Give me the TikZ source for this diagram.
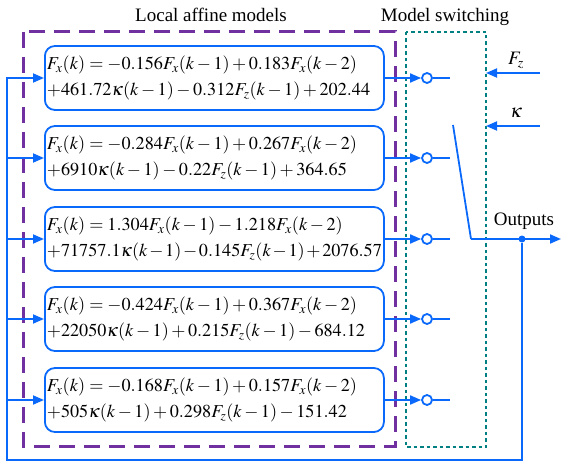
\documentclass[tikz,border=0pt]{standalone}
\usepackage{mathptmx}
\usepackage{fontspec}
\setmainfont{Liberation Serif}
\newfontfamily\titlefont{Liberation Serif}
\usetikzlibrary{arrows.meta}
\definecolor{wireblue}{RGB}{10,105,250}
\definecolor{grpurple}{RGB}{112,48,160}
\definecolor{grteal}{RGB}{0,128,128}
\tikzset{
  wire/.style={draw=wireblue, line width=1.8pt},
  arr/.style={wire, -{Triangle[length=11pt,width=9pt]}},
  eqbox/.style={draw=wireblue, line width=1.8pt, rounded corners=10pt,
    text width=335pt, inner xsep=2pt, minimum height=64pt, anchor=west,
    align=left, font=\fontsize{18.2}{26}\selectfont},
  swnode/.style={circle, draw=wireblue, line width=1.8pt, fill=white,
    minimum size=10pt, inner sep=0pt},
  title/.style={font=\titlefont\fontsize{19}{21}\selectfont},
}
\begin{document}
\begin{tikzpicture}[x=1pt,y=-1pt]
\useasboundingbox (0,0) rectangle (561,462);

% group frames
\draw[grpurple, line width=3pt, dash pattern=on 16pt off 9pt] (23,32) rectangle (395,446);
\draw[grteal, line width=2.8pt, dash pattern=on 3.5pt off 3pt] (406,32) rectangle (486,447);
\node[title] (tloc) at (211,15) {Local affine models};
\node[title] (tsw) at (445,17) {Model switching};

% local models
\node[eqbox] (m1) at (44,78) {$F_x(k)=-0.156F_x(k-1)+0.183F_x(k-2)$\\$+461.72\kappa(k-1)-0.312F_z(k-1)+202.44$};
\node[eqbox] (m2) at (44,158) {$F_x(k)=-0.284F_x(k-1)+0.267F_x(k-2)$\\$+6910\kappa(k-1)-0.22F_z(k-1)+364.65$};
\node[eqbox] (m3) at (44,239) {$F_x(k)=1.304F_x(k-1)-1.218F_x(k-2)$\\$+71757.1\kappa(k-1)-0.145F_z(k-1)+2076.57$};
\node[eqbox] (m4) at (44,319) {$F_x(k)=-0.424F_x(k-1)+0.367F_x(k-2)$\\$+22050\kappa(k-1)+0.215F_z(k-1)-684.12$};
\node[eqbox] (m5) at (44,400) {$F_x(k)=-0.168F_x(k-1)+0.157F_x(k-2)$\\$+505\kappa(k-1)+0.298F_z(k-1)-151.42$};

% switch contacts
\foreach \i/\y in {1/78,2/158,3/239,4/319,5/400}{
  \node[swnode] (s\i) at (427,\y) {};
  \coordinate (c\i) at (450,\y);
  \draw[arr] (m\i.east) -- (s\i.west);
  \draw[wire] (s\i.east) -- (c\i);
  \coordinate (fb\i) at (7,\y);
}

% switch blade and output
\coordinate (bt) at (453,125);
\coordinate (bb) at (471,239);
\coordinate (oend) at (561,239);
\node[circle, fill=wireblue, minimum size=7pt, inner sep=0pt] (dot) at (522,239) {};
\draw[wire] (bt) -- (bb);
\draw[arr] (bb) -- (oend);
\node[title] (tout) at (524,221) {Outputs};

% feedback to all models
\draw[arr] (dot) |- (7,460) |- (m1.west);
\foreach \i in {2,3,4,5}{
  \draw[arr] (fb\i) -- (m\i.west);
}

% scheduling inputs
\coordinate (fzs) at (540,73);
\coordinate (fze) at (486,73);
\coordinate (kas) at (540,126);
\coordinate (kae) at (486,126);
\draw[arr] (fzs) -- (fze);
\draw[arr] (kas) -- (kae);
\node[font=\fontsize{19}{21}\selectfont] (lfz) at (516,60) {$F_z$};
\node[font=\fontsize{19}{21}\selectfont] (lka) at (516,113) {$\kappa$};
\end{tikzpicture}
\end{document}
